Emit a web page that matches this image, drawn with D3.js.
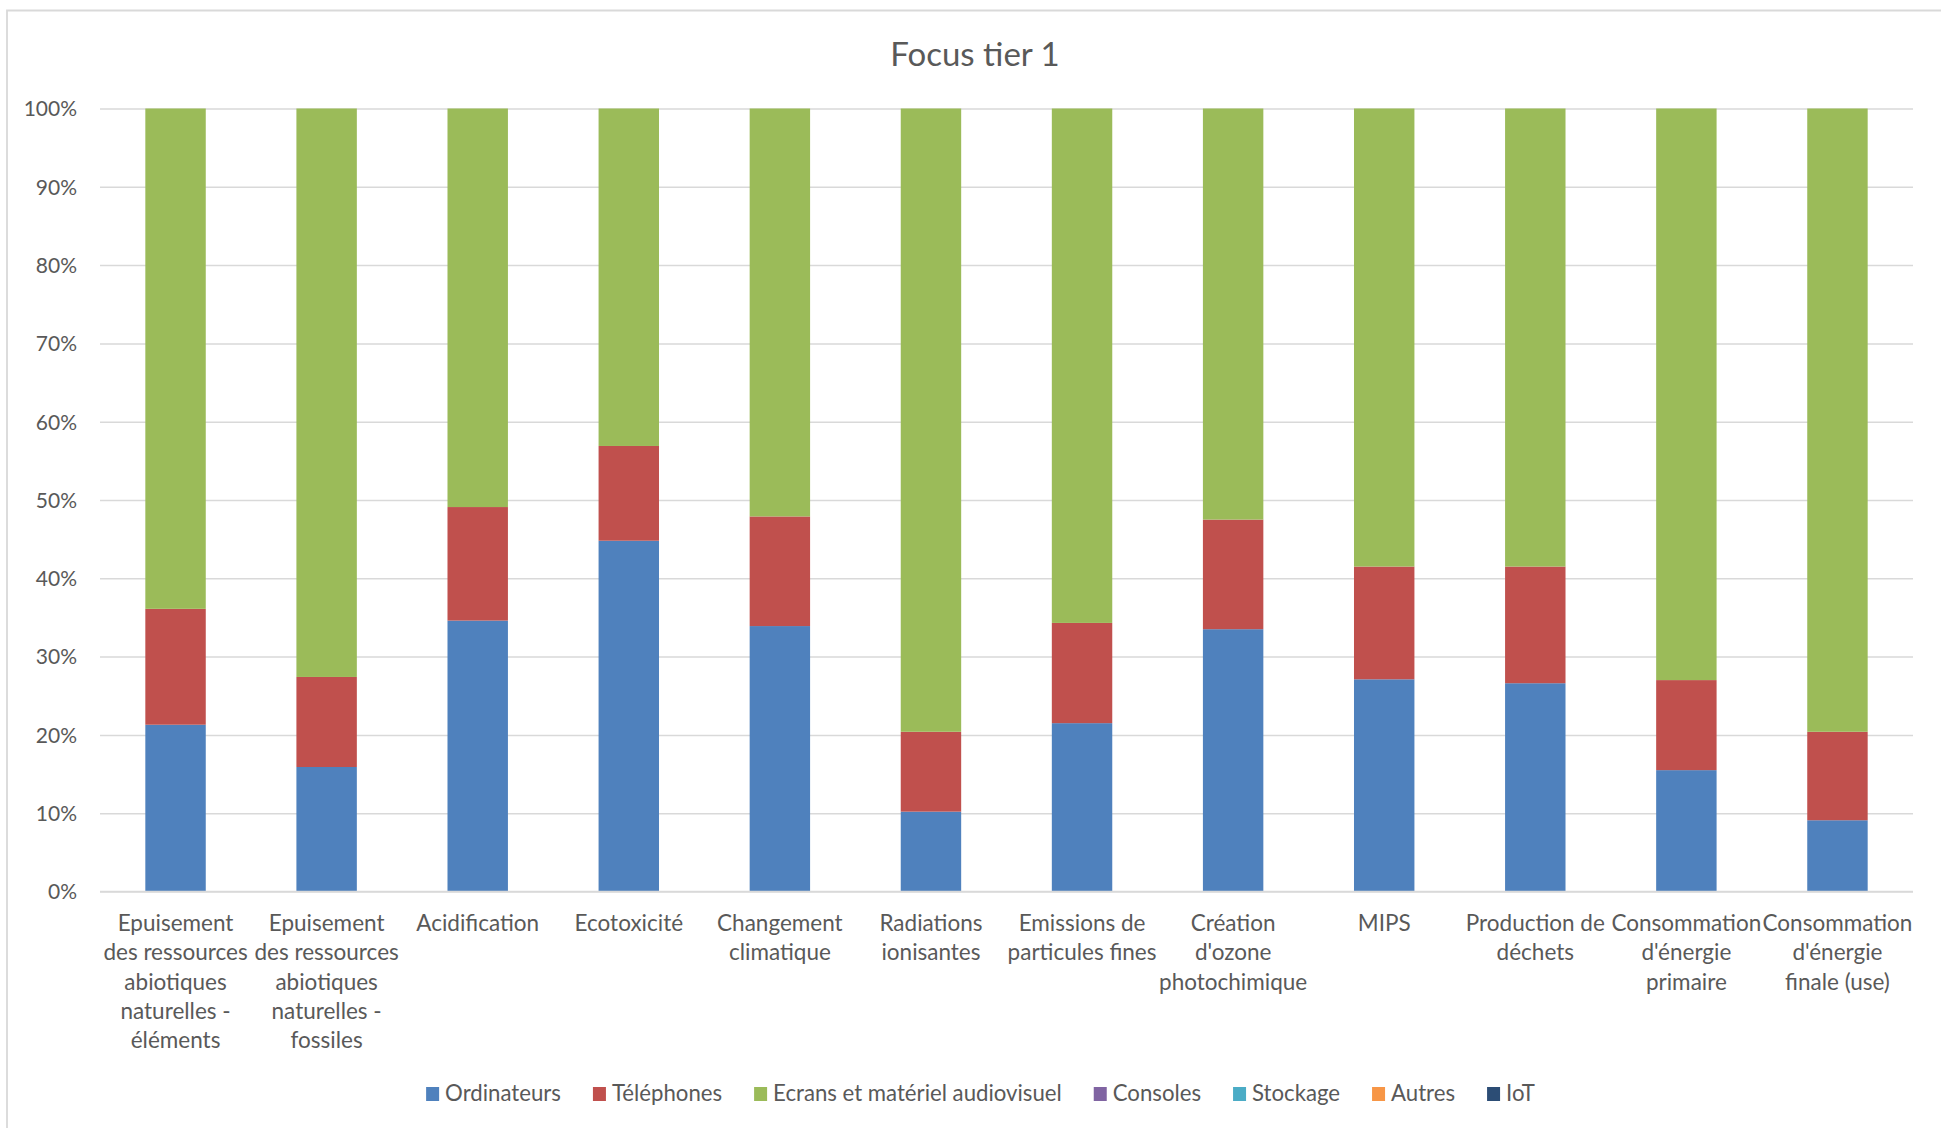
<!DOCTYPE html>
<html>
<head>
<meta charset="utf-8">
<script src="https://cdnjs.cloudflare.com/ajax/libs/d3/7.8.5/d3.min.js"></script>
<style>
  html, body { margin: 0; padding: 0; background: #ffffff; }
  svg { display: block; }
  text { font-family: Lato, "Open Sans", "Liberation Sans", sans-serif; }
</style>
</head>
<body>
<svg id="chart" width="1941" height="1128"></svg>
<script>
// ---------- data ----------
const title = "Focus tier 1";
const categories = [
  "Epuisement\ndes ressources\nabiotiques\nnaturelles -\néléments",
  "Epuisement\ndes ressources\nabiotiques\nnaturelles -\nfossiles",
  "Acidification",
  "Ecotoxicité",
  "Changement\nclimatique",
  "Radiations\nionisantes",
  "Emissions de\nparticules fines",
  "Création\nd'ozone\nphotochimique",
  "MIPS",
  "Production de\ndéchets",
  "Consommation\nd'énergie\nprimaire",
  "Consommation\nd'énergie\nfinale (use)"
];
const seriesNames = ["Ordinateurs", "Téléphones", "Ecrans et matériel audiovisuel", "Consoles", "Stockage", "Autres", "IoT"];
const ordinateurs = [21.3, 15.9, 34.6, 44.8, 33.9, 10.2, 21.5, 33.5, 27.1, 26.6, 15.5, 9.1];
const telephones  = [14.8, 11.5, 14.5, 12.1, 14.0, 10.2, 12.8, 14.0, 14.4, 14.9, 11.5, 11.3];
const ecrans      = [63.9, 72.6, 50.9, 43.1, 52.1, 79.6, 65.7, 52.5, 58.5, 58.5, 73.0, 79.6];
const consoles    = [0, 0, 0, 0, 0, 0, 0, 0, 0, 0, 0, 0];
const stockage    = [0, 0, 0, 0, 0, 0, 0, 0, 0, 0, 0, 0];
const autres      = [0, 0, 0, 0, 0, 0, 0, 0, 0, 0, 0, 0];
const iot         = [0, 0, 0, 0, 0, 0, 0, 0, 0, 0, 0, 0];
const yTicks = [0, 0.1, 0.2, 0.3, 0.4, 0.5, 0.6, 0.7, 0.8, 0.9, 1.0];

// ---------- styles ----------
const colors = ["#4F81BD", "#C0504D", "#9BBB59", "#8064A2", "#4BACC6", "#F79646", "#2C4D75"];
const textColor = "#595959";
const gridColor = "#d9d9d9";

const seriesValues = [ordinateurs, telephones, ecrans, consoles, stockage, autres, iot];
const table = categories.map((c, i) => {
  const row = { cat: c };
  seriesNames.forEach((s, j) => row[s] = seriesValues[j][i]);
  return row;
});

const svg = d3.select("#chart");
const W = 1941, H = 1128;
const plot = { left: 100, right: 1913, top: 108.5, bottom: 891.5 };

// chart frame (top and left edges visible)
svg.append("rect").attr("x", 0).attr("y", 0).attr("width", W).attr("height", H).attr("fill", "#fff");
svg.append("path").attr("d", `M7,${H}V10.5H${W}`)
  .attr("fill", "none").attr("stroke", gridColor).attr("stroke-width", 1.8);

// title
svg.append("text").attr("x", 975).attr("y", 66).attr("text-anchor", "middle")
  .attr("fill", textColor).style("font-size", "33px").text(title);

const x = d3.scaleBand().domain(categories).range([plot.left, plot.right])
  .paddingInner(0.6).paddingOuter(0.3);
const y = d3.scaleLinear().domain([0, 1]).range([plot.bottom, plot.top]);

// grid + y axis
const yAxis = d3.axisLeft(y).tickValues(yTicks).tickFormat(d3.format(".0%"))
  .tickSize(-(plot.right - plot.left)).tickPadding(23);
const gy = svg.append("g").attr("transform", `translate(${plot.left},0)`).call(yAxis);
gy.select(".domain").remove();
gy.selectAll(".tick line").attr("stroke", gridColor).attr("stroke-width", 1.5);
gy.selectAll(".tick text").attr("fill", textColor).style("font-size", "21px")
  .style("font-family", "Lato, sans-serif").attr("dy", "0.35em");

// stacked bars (100%)
const stack = d3.stack().keys(seriesNames).offset(d3.stackOffsetExpand);
const stacked = stack(table);
svg.append("g").selectAll("g").data(stacked).join("g")
  .attr("fill", (d, i) => colors[i])
  .selectAll("rect").data(d => d).join("rect")
  .attr("x", d => x(d.data.cat))
  .attr("width", x.bandwidth())
  .attr("y", d => y(d[1]))
  .attr("height", d => Math.max(0, y(d[0]) - y(d[1])));

// x axis
const xAxis = d3.axisBottom(x).tickSize(0).tickFormat("");
const gx = svg.append("g").attr("transform", `translate(0,${plot.bottom})`).call(xAxis);
gx.select(".domain").attr("stroke", gridColor).attr("stroke-width", 1.5)
  .attr("d", `M${plot.left},0H${plot.right}`);
gx.selectAll(".tick").each(function(d) {
  const t = d3.select(this).append("text").attr("fill", textColor)
    .attr("text-anchor", "middle").style("font-size", "22.5px").attr("y", 39.5);
  d.split("\n").forEach((line, k) => {
    t.append("tspan").attr("x", 0).attr("dy", k === 0 ? 0 : 29.3).text(line);
  });
});

// legend
const legend = svg.append("g");
let cx = 0;
seriesNames.forEach((name, i) => {
  const g = legend.append("g");
  g.append("rect").attr("x", 0).attr("y", -14).attr("width", 13).attr("height", 14).attr("fill", colors[i]);
  const t = g.append("text").attr("x", 19).attr("y", 0).attr("fill", textColor)
    .style("font-size", "22.2px").text(name);
  const w = 19 + t.node().getComputedTextLength();
  g.attr("transform", `translate(${cx},0)`);
  cx += w + 32;
});
const totalW = cx - 32;
legend.attr("transform", `translate(${980.5 - totalW / 2},1101)`);
</script>
</body>
</html>
